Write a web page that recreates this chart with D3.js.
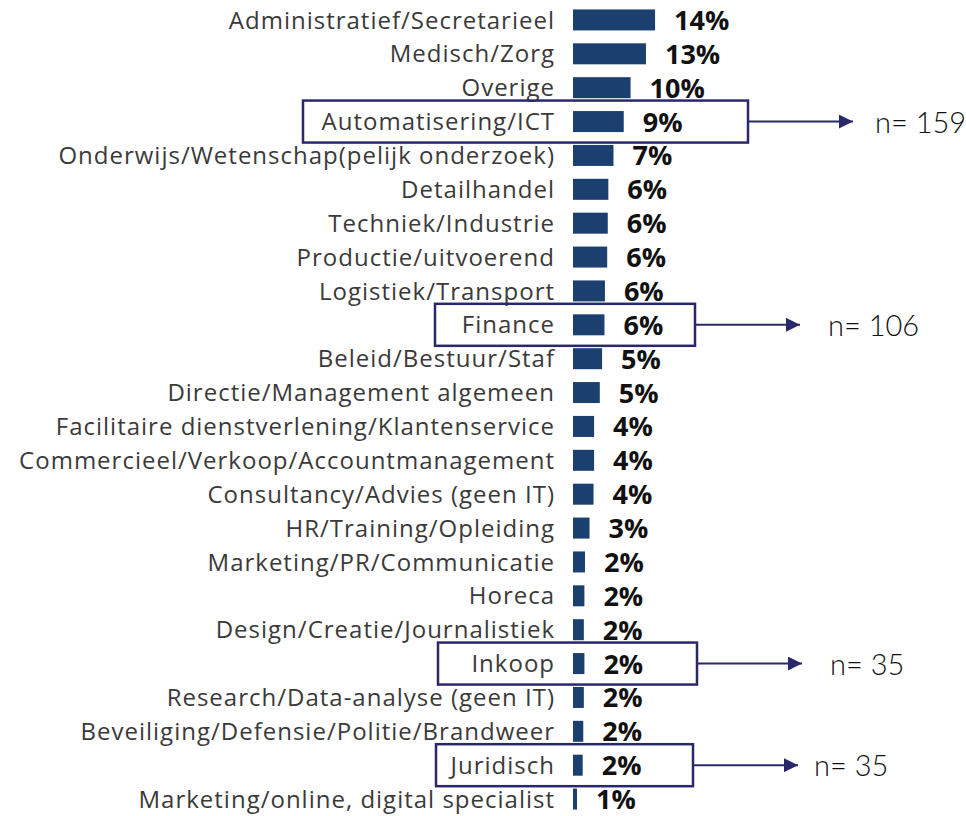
<!DOCTYPE html>
<html>
<head>
<meta charset="utf-8">
<script src="https://cdn.jsdelivr.net/npm/d3@7"></script>
<style>
  body { margin: 0; background: #fff; }
  svg { display: block; }
</style>
</head>
<body>
<svg id="chart"></svg>
<script>
// categories, top to bottom
var categories = [
    "Administratief/Secretarieel",
    "Medisch/Zorg",
    "Overige",
    "Automatisering/ICT",
    "Onderwijs/Wetenschap(pelijk onderzoek)",
    "Detailhandel",
    "Techniek/Industrie",
    "Productie/uitvoerend",
    "Logistiek/Transport",
    "Finance",
    "Beleid/Bestuur/Staf",
    "Directie/Management algemeen",
    "Facilitaire dienstverlening/Klantenservice",
    "Commercieel/Verkoop/Accountmanagement",
    "Consultancy/Advies (geen IT)",
    "HR/Training/Opleiding",
    "Marketing/PR/Communicatie",
    "Horeca",
    "Design/Creatie/Journalistiek",
    "Inkoop",
    "Research/Data-analyse (geen IT)",
    "Beveiliging/Defensie/Politie/Brandweer",
    "Juridisch",
    "Marketing/online, digital specialist"
];
// share in percent
var values = [14.4, 12.8, 10.1, 8.9, 7.1, 6.2, 6.1, 6.0, 5.6, 5.52, 5.1, 4.7,
    3.7, 3.7, 3.6, 2.9, 2.1, 2.0, 1.9, 2.0, 1.9, 1.8, 1.7, 0.7];
// highlighted categories and their n
var highlightCats = ["Automatisering/ICT", "Finance", "Inkoop", "Juridisch"];
var highlightN = [159, 106, 35, 35];

var config = {
    width: 966,
    height: 816,
    barLeft: 573, // x where bars start
    pxPerPct: 5.7,
    barColor: "#1b3f6e",
    boxColor: "#29286b",
    labelColor: "#3a3a3a"
};
// box extents and gap before the n text (layout only)
var boxLayout = [
    { left: 303, right: 748, nGap: 22 },
    { left: 435, right: 695, nGap: 28 },
    { left: 438, right: 697, nGap: 28 },
    { left: 436, right: 693, nGap: 16 }
];

var svg = d3.select("#chart")
    .attr("width", config.width)
    .attr("height", config.height);

var x = d3.scaleLinear()
    .domain([0, 100])
    .range([config.barLeft, config.barLeft + 100 * config.pxPerPct]);

var y = d3.scaleBand()
    .domain(categories)
    .range([3, 816])
    .paddingInner(0.38)
    .paddingOuter(0.19);

var rows = categories.map(function(c, i) { return { cat: c, v: values[i] }; });

// bars
svg.selectAll("rect.bar")
    .data(rows)
    .enter()
    .append("rect")
    .attr("class", "bar")
    .attr("x", x(0))
    .attr("y", function(d) { return y(d.cat); })
    .attr("width", function(d) { return x(d.v) - x(0); })
    .attr("height", y.bandwidth())
    .style("fill", config.barColor);

// category labels
svg.selectAll("text.cat")
    .data(rows)
    .enter()
    .append("text")
    .attr("class", "cat")
    .attr("x", config.barLeft - 18)
    .attr("y", function(d) { return y(d.cat) + y.bandwidth() / 2; })
    .attr("dy", "0.36em")
    .attr("text-anchor", "end")
    .style("font-family", "'Open Sans', sans-serif")
    .style("font-size", "24px")
    .style("letter-spacing", "1px")
    .style("fill", config.labelColor)
    .text(function(d) { return d.cat; });

// value labels
svg.selectAll("text.val")
    .data(rows)
    .enter()
    .append("text")
    .attr("class", "val")
    .attr("x", function(d) { return x(d.v) + 19; })
    .attr("y", function(d) { return y(d.cat) + y.bandwidth() / 2; })
    .attr("dy", "0.37em")
    .style("font-family", "'Open Sans', sans-serif")
    .style("font-weight", 700)
    .style("font-size", "27px")
    .style("fill", "#111")
    .text(function(d) { return Math.round(d.v) + "%"; });

// highlight boxes with arrows
var marker = svg.append("defs").append("marker")
    .attr("id", "arrow")
    .attr("viewBox", "0 0 10 10")
    .attr("refX", 10)
    .attr("refY", 5)
    .attr("markerUnits", "userSpaceOnUse")
    .attr("markerWidth", 16)
    .attr("markerHeight", 14)
    .attr("orient", "auto");
marker.append("path")
    .attr("d", "M0,0L10,5L0,10Z")
    .style("fill", config.boxColor);

var hl = svg.selectAll("g.hl")
    .data(highlightCats.map(function(c, i) {
        return { cat: c, n: highlightN[i], box: boxLayout[i] };
    }))
    .enter()
    .append("g")
    .attr("class", "hl");

hl.append("rect")
    .attr("x", function(d) { return d.box.left; })
    .attr("y", function(d) { return y(d.cat) + y.bandwidth() / 2 - 21; })
    .attr("width", function(d) { return d.box.right - d.box.left; })
    .attr("height", 42)
    .style("fill", "none")
    .style("stroke", config.boxColor)
    .style("stroke-width", 2.5);

hl.append("line")
    .attr("x1", function(d) { return d.box.right; })
    .attr("x2", function(d) { return d.box.right + 105; })
    .attr("y1", function(d) { return y(d.cat) + y.bandwidth() / 2; })
    .attr("y2", function(d) { return y(d.cat) + y.bandwidth() / 2; })
    .style("stroke", config.boxColor)
    .style("stroke-width", 2)
    .attr("marker-end", "url(#arrow)");

hl.append("text")
    .attr("x", function(d) { return d.box.right + 105 + d.box.nGap; })
    .attr("y", function(d) { return y(d.cat) + y.bandwidth() / 2; })
    .attr("dy", "0.38em")
    .style("font-family", "Lato, sans-serif")
    .style("font-weight", 300)
    .style("font-size", "29px")
    .style("fill", "#111")
    .text(function(d) { return "n= " + d.n; });
</script>
</body>
</html>
